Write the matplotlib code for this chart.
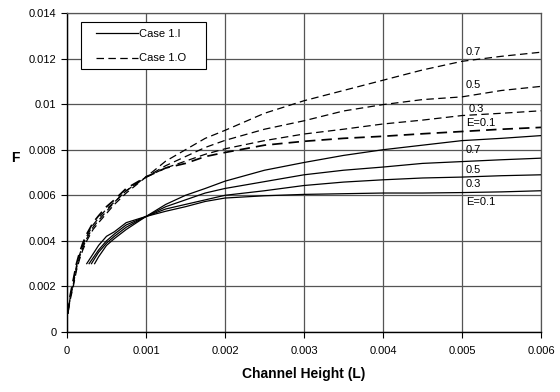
import matplotlib
matplotlib.use("Agg")
import matplotlib.pyplot as plt
from matplotlib.patches import Rectangle
from matplotlib.lines import Line2D

plt.rcParams['font.family'] = ['Liberation Sans', 'DejaVu Sans']

E_labels = ["E=0.1", "0.3", "0.5", "0.7"]

# Case 1.I (solid): each curve's own start point, then shared x values
solid_start_x = [0.00025, 0.00028, 0.00031, 0.00035]
solid_x_common = [0.0004, 0.0005, 0.0006, 0.00075, 0.001, 0.00125, 0.0015, 0.00175,
                  0.002, 0.0025, 0.003, 0.0035, 0.004, 0.0045, 0.005, 0.0055, 0.006]
solid_y = [
    [0.0030, 0.0038, 0.0042, 0.0044, 0.0048, 0.00507, 0.0053, 0.0055, 0.00573, 0.00588,
     0.00598, 0.00604, 0.00607, 0.0061, 0.0061, 0.00612, 0.00615, 0.0062],
    [0.0030, 0.0036, 0.0040, 0.0043, 0.0047, 0.00507, 0.0054, 0.0056, 0.0058, 0.0060,
     0.0062, 0.00643, 0.00658, 0.00668, 0.00676, 0.0068, 0.00686, 0.0069],
    [0.0030, 0.0035, 0.0039, 0.0042, 0.0046, 0.00507, 0.0055, 0.0058, 0.0061, 0.0063,
     0.0066, 0.0069, 0.0071, 0.00724, 0.0074, 0.00748, 0.00756, 0.00763],
    [0.0030, 0.0033, 0.0038, 0.0041, 0.0045, 0.00507, 0.0056, 0.0060, 0.0063, 0.00662,
     0.0071, 0.00744, 0.00775, 0.0080, 0.0082, 0.0084, 0.0085, 0.00862],
]

# Case 1.O (dashed)
dash_x = [0.00001, 0.00004, 0.00008, 0.00012, 0.00016, 0.0002, 0.00025, 0.00033, 0.0004,
          0.0005, 0.0006, 0.00075, 0.001, 0.00125, 0.0015, 0.00175, 0.002, 0.0025, 0.003,
          0.0035, 0.004, 0.0045, 0.005, 0.0055, 0.006]
dash_y = [
    [0.0008, 0.0016, 0.0023, 0.0030, 0.0035, 0.0039, 0.0043, 0.0048, 0.0051, 0.0055, 0.0058,
     0.0063, 0.0068, 0.0072, 0.0074, 0.0077, 0.00788, 0.0082, 0.00837, 0.0085, 0.00859,
     0.0087, 0.0088, 0.0089, 0.00898],
    [0.0008, 0.0015, 0.0022, 0.0029, 0.0034, 0.0038, 0.0042, 0.0047, 0.0050, 0.0054, 0.0057,
     0.0062, 0.0068, 0.0072, 0.0075, 0.0078, 0.00804, 0.0084, 0.00869, 0.0089, 0.00913,
     0.0093, 0.0095, 0.0096, 0.00971],
    [0.0008, 0.0015, 0.0021, 0.0028, 0.0033, 0.0037, 0.0041, 0.0046, 0.0049, 0.0053, 0.0057,
     0.0062, 0.0068, 0.0073, 0.0077, 0.0081, 0.00841, 0.0089, 0.00927, 0.0097, 0.00998,
     0.0102, 0.01032, 0.0106, 0.01078],
    [0.0008, 0.0014, 0.0020, 0.0027, 0.0032, 0.0036, 0.0040, 0.0045, 0.0048, 0.0052, 0.0056,
     0.0061, 0.0068, 0.0075, 0.0080, 0.0085, 0.00885, 0.0096, 0.01015, 0.0106, 0.01105,
     0.0115, 0.01188, 0.0121, 0.01228],
]

dash_label_y = [0.00917, 0.00979, 0.01086, 0.01231]
solid_label_y = [0.00571, 0.00651, 0.00712, 0.0080]

x_ticks = [0, 0.001, 0.002, 0.003, 0.004, 0.005, 0.006]
x_ticklabels = ["0", "0.001", "0.002", "0.003", "0.004", "0.005", "0.006"]
y_ticks = [0, 0.002, 0.004, 0.006, 0.008, 0.01, 0.012, 0.014]
y_ticklabels = ["0", "0.002", "0.004", "0.006", "0.008", "0.01", "0.012", "0.014"]

W, H = 560, 392
fig = plt.figure(figsize=(5.6, 3.92), dpi=100)
ax = fig.add_axes([0.1196, 0.153, 0.966 - 0.1196, 0.9668 - 0.153])

for i in range(4):
    ax.plot([solid_start_x[i]] + solid_x_common, solid_y[i], color='black', lw=0.9, ls='-',
            zorder=3)
for i in range(4):
    ax.plot(dash_x, dash_y[i], color='black', lw=1.25 if i == 0 else 0.9,
            linestyle=(i * 2.3, (6, 3.5)), zorder=3)

for i, lab in enumerate(E_labels):
    xo = 0.00508 if (i == 1) else 0.005047
    ax.text(xo, dash_label_y[i], lab, fontsize=8, va='center', ha='left', zorder=4)
    ax.text(0.005047, solid_label_y[i], lab, fontsize=8, va='center', ha='left', zorder=4)

ax.set_xlim(0, 0.006)
ax.set_ylim(0, 0.014)
ax.set_xticks(x_ticks)
ax.set_xticklabels(x_ticklabels)
ax.set_yticks(y_ticks)
ax.set_yticklabels(y_ticklabels)
ax.tick_params(axis='both', labelsize=8, direction='out', length=4, width=0.8, color='black')
ax.tick_params(axis='x', pad=6)
ax.grid(True, color='#555555', lw=0.9)
ax.set_axisbelow(True)
for s in ['top', 'right']:
    ax.spines[s].set_color('#555555')
    ax.spines[s].set_linewidth(0.9)
for s in ['left', 'bottom']:
    ax.spines[s].set_color('black')
    ax.spines[s].set_linewidth(1.0)

ax.set_xlabel("Channel Height (L)", fontsize=10, fontweight='bold', labelpad=8)
ax.set_ylabel("F", fontsize=10, fontweight='bold', rotation=0, ha='center', va='center')
ax.yaxis.set_label_coords(-0.108, 0.545)

# legend frame drawn as a box in figure pixel space
box_l, box_t, box_r, box_b = 81, 22, 206, 69
ax.add_patch(Rectangle((box_l / W, 1 - box_b / H), (box_r - box_l) / W,
                       (box_b - box_t) / H, transform=fig.transFigure, clip_on=False,
                       facecolor='white', edgecolor='black', lw=0.8, zorder=5))
handles = [Line2D([], [], color='black', lw=0.9, ls='-'),
           Line2D([], [], color='black', lw=0.9, dashes=(6, 3.5))]
leg = ax.legend(handles, ["Case 1.I", "Case 1.O"], loc='upper left',
                bbox_to_anchor=(96 / W, 1 - 29 / H),
                bbox_transform=fig.transFigure, borderaxespad=0, borderpad=0,
                fontsize=8, frameon=False, handlelength=3.8, labelspacing=1.3,
                handletextpad=0.1)
leg.set_zorder(6)

fig.savefig("out.png", dpi=100)
